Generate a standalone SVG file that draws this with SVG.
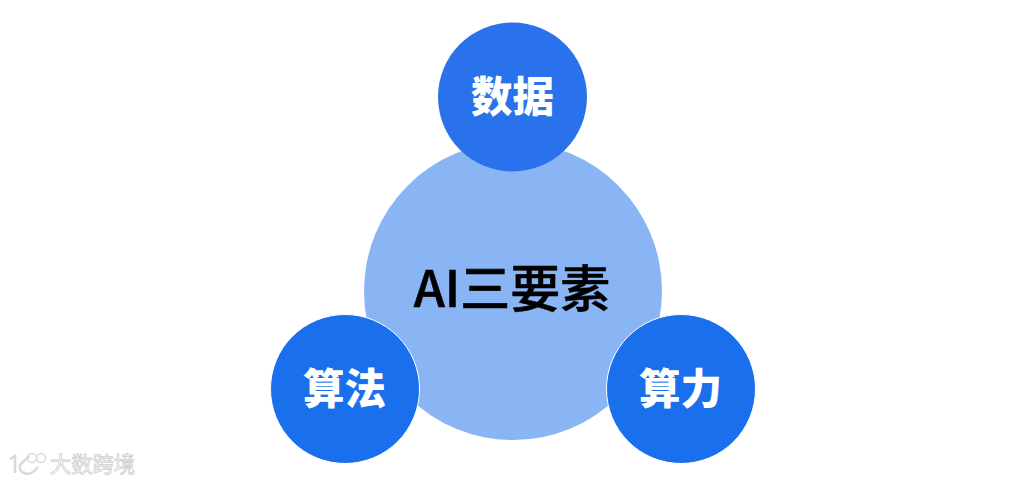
<svg xmlns="http://www.w3.org/2000/svg" width="1033" height="483" viewBox="0 0 1033 483">
<style>
.l{font-family:"Noto Sans CJK SC","Noto Sans",sans-serif;font-weight:900;font-size:41.500px;fill:#fff;text-anchor:middle}
.c{font-family:"Noto Sans CJK SC","Noto Sans",sans-serif;font-weight:500;font-size:50px;fill:#000;stroke:#000;stroke-width:0.600;text-anchor:middle}
.o{stroke:#fff;stroke-width:1}
</style>
<rect width="1033" height="483" fill="#fff"/>
<g id="node-center"><circle cx="513" cy="291" r="149" fill="#8ab5f4"/><text class="c" x="512" y="307">AI三要素</text></g>
<g id="node-data"><circle cx="512.500" cy="97" r="74.500" fill="#2a72eb"/><text class="l" x="512.500" y="112">数据</text></g>
<g id="node-algo"><circle cx="345" cy="389" r="74.500" fill="#1a6fec" class="o"/><text class="l" x="344.500" y="404">算法</text></g>
<g id="node-power"><circle cx="681" cy="389" r="74.500" fill="#1a6fec" class="o"/><text class="l" x="680.500" y="404">算力</text></g>
<g id="connectors"/>
<g id="watermark" fill="none" stroke="#dadada" stroke-width="2.500">
<path d="M10 459L15 456V473M29 456L20 465Q19 471 24 473Q31 476 38 467"/>
<circle cx="32" cy="458" r="4.500" stroke-width="1.500"/><circle cx="41" cy="458" r="4.500" stroke-width="1.500"/>
<text x="50" y="472" font-family="'Noto Sans CJK SC',sans-serif" font-size="21.250" fill="#fff" stroke="#cfcfcf" stroke-width="0.800">大数跨境</text>
</g>
</svg>
